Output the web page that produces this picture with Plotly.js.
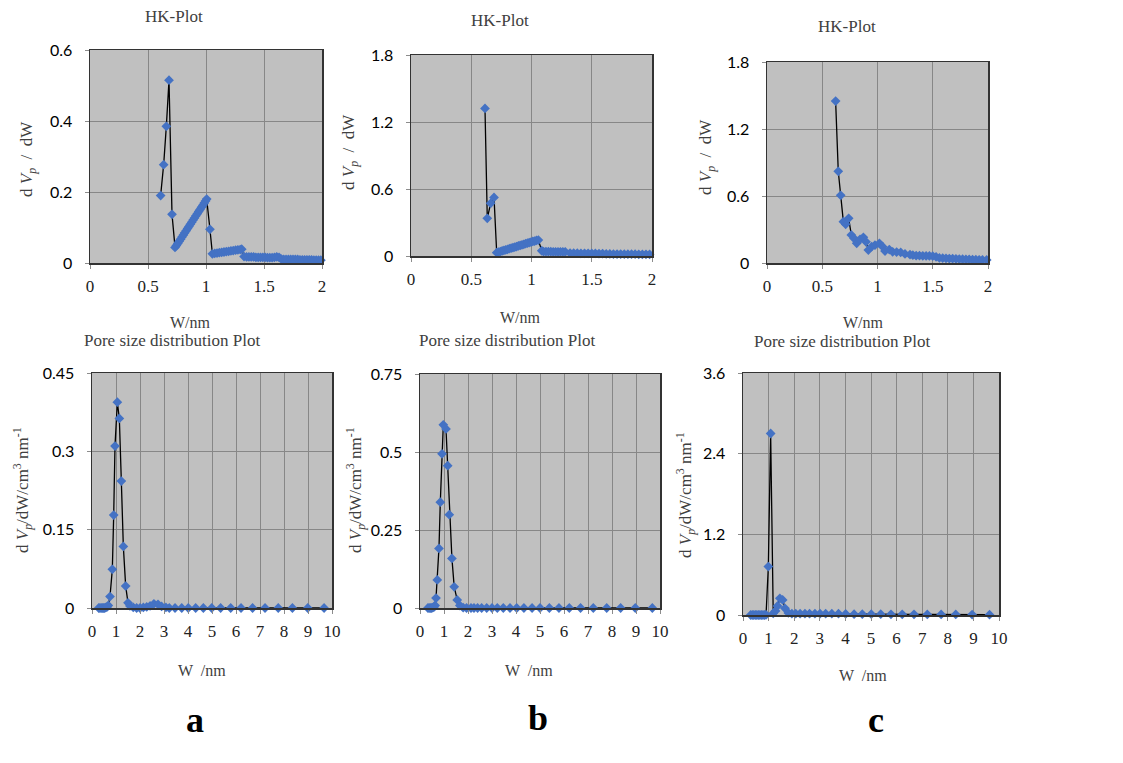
<!DOCTYPE html>
<html>
<head>
<meta charset="utf-8">
<script src="https://cdn.plot.ly/plotly-3.0.1.min.js"></script>
<style>html,body{margin:0;padding:0;background:#fff;}#chart{width:1123px;height:763px;}</style>
</head>
<body>
<div id="chart"></div>
<script>
// ---------- DATA ----------
// HK-Plot (a)
const hkA_w = [0.609,0.635,0.658,0.681,0.707,0.733,
  0.745,0.757,0.769,0.781,0.793,0.805,0.817,0.829,0.841,0.853,0.865,0.877,0.889,0.901,0.913,0.925,0.937,0.949,0.961,0.973,0.985,0.996,1.006,
  1.034,1.055,1.075,1.095,1.115,1.135,1.155,1.175,1.195,1.215,1.235,1.255,1.275,1.295,1.308,
  1.328,1.35,1.37,1.39,1.41,1.43,1.45,1.47,1.49,1.51,1.53,1.55,1.57,1.59,1.61,1.63,
  1.65,1.67,1.69,1.71,1.73,1.75,1.77,1.79,1.81,1.83,1.85,1.87,1.89,1.91,1.93,1.95,1.97,1.99];
const hkA_v = [0.190,0.277,0.385,0.515,0.137,0.044,
  0.049,0.055,0.061,0.067,0.073,0.079,0.085,0.091,0.097,0.103,0.109,0.115,0.121,0.127,0.133,0.139,0.145,0.151,0.157,0.163,0.169,0.175,0.180,
  0.095,0.026,0.027,0.028,0.029,0.030,0.031,0.032,0.033,0.034,0.035,0.036,0.037,0.038,0.039,
  0.018,0.017,0.017,0.017,0.017,0.016,0.016,0.016,0.016,0.016,0.015,0.015,0.015,0.016,0.017,0.016,
  0.011,0.010,0.010,0.010,0.010,0.010,0.010,0.010,0.009,0.009,0.009,0.009,0.009,0.009,0.008,0.008,0.008,0.008];
// HK-Plot (b)
const hkB_w = [0.614,0.633,0.661,0.689,0.711,
  0.726,0.741,0.756,0.771,0.786,0.801,0.816,0.831,0.846,0.861,0.876,0.891,0.906,0.921,0.936,0.951,0.966,0.981,0.996,1.011,1.026,1.041,1.057,
  1.085,1.10,1.12,1.14,1.16,1.18,1.20,1.22,1.24,1.26,1.28,
  1.32,1.35,1.38,1.41,1.44,1.47,1.50,1.53,1.56,1.59,
  1.62,1.65,1.68,1.71,1.74,1.77,1.80,1.83,1.86,1.89,1.92,1.95,1.98];
const hkB_v = [1.322,0.337,0.472,0.525,0.030,
  0.035,0.040,0.045,0.050,0.055,0.060,0.065,0.070,0.075,0.080,0.085,0.090,0.095,0.100,0.105,0.110,0.115,0.120,0.125,0.130,0.134,0.139,0.143,
  0.047,0.040,0.039,0.039,0.039,0.038,0.038,0.038,0.038,0.038,0.037,
  0.026,0.025,0.025,0.024,0.024,0.024,0.023,0.023,0.022,0.022,
  0.018,0.018,0.017,0.017,0.017,0.016,0.016,0.016,0.016,0.015,0.015,0.015,0.015];
// HK-Plot (c)
const hkC_w = [0.621,0.645,0.667,0.691,0.712,0.739,0.763,0.787,0.812,0.842,0.872,0.896,0.917,0.947,0.977,1.017,1.047,1.068,1.107,1.137,1.173,1.21,1.249,1.294,
  1.32,1.35,1.38,1.41,1.44,1.47,1.50,1.53,1.56,1.59,1.62,1.65,1.68,1.71,1.74,1.77,1.80,1.83,1.86,1.89,1.92,1.95,1.988];
const hkC_v = [1.450,0.821,0.606,0.370,0.346,0.400,0.251,0.221,0.176,0.212,0.230,0.190,0.116,0.146,0.160,0.176,0.146,0.107,0.120,0.100,0.098,0.095,0.081,0.075,
  0.070,0.066,0.065,0.064,0.063,0.063,0.062,0.055,0.045,0.043,0.042,0.040,0.039,0.037,0.035,0.034,0.033,0.032,0.031,0.030,0.029,0.028,0.027];
// Pore size distribution (a)
const psdA_w = [0.28,0.33,0.38,0.43,0.48,0.53,0.58,0.63,0.68,0.75,0.847,0.904,0.958,1.056,1.139,1.222,1.306,1.403,1.50,1.58,1.72,1.86,2.0,2.14,2.28,2.42,2.58,2.75,2.9,3.08,3.22,3.46,3.74,4.01,4.32,4.64,4.99,5.36,5.78,6.21,6.69,7.21,7.76,8.35,8.99,9.67];
const psdA_v = [0,0,0,0,0,0,0.001,0.002,0.005,0.022,0.074,0.178,0.310,0.394,0.363,0.243,0.118,0.042,0.010,0.004,0.001,0,0,0.001,0.002,0.004,0.008,0.007,0.003,0.001,0,0,0,0,0,0,0,0,0,0,0,0,0,0,0,0];
// Pore size distribution (b)
const psdB_w = [0.33,0.38,0.43,0.48,0.53,0.58,0.63,0.667,0.72,0.79,0.846,0.917,0.971,1.083,1.154,1.22,1.33,1.425,1.55,1.66,1.8,1.94,2.125,2.25,2.4,2.57,2.78,3.0,3.22,3.47,3.75,4.03,4.33,4.67,5.0,5.39,5.79,6.22,6.69,7.22,7.78,8.36,8.97,9.68];
const psdB_v = [0,0,0,0,0.001,0.003,0.008,0.032,0.090,0.191,0.339,0.494,0.587,0.574,0.456,0.299,0.159,0.068,0.026,0.008,0.001,0,0,0,0,0,0,0,0,0,0,0,0,0,0,0,0,0,0,0,0,0,0,0];
// Pore size distribution (c)
const psdC_w = [0.30,0.36,0.42,0.48,0.54,0.60,0.66,0.72,0.78,0.84,0.90,0.99,1.08,1.18,1.27,1.35,1.44,1.55,1.64,1.77,1.91,2.06,2.23,2.42,2.6,2.81,3.01,3.23,3.47,3.73,4.01,4.34,4.66,5.01,5.38,5.78,6.22,6.68,7.2,7.74,8.31,8.95,9.63];
const psdC_v = [0,0,0,0,0,0,0,0,0,0,0.002,0.72,2.70,0.025,0.06,0.134,0.249,0.224,0.10,0.03,0.02,0.02,0.02,0.02,0.02,0.02,0.02,0.02,0.02,0.02,0.015,0.012,0.012,0.012,0.012,0.01,0.01,0.01,0.008,0.008,0.008,0.006,0.005];

// tick labels
const hkXTicks = [0,0.5,1,1.5,2];
const hkXText = ["0","0.5","1","1.5","2"];
const hkAYTicks = [0,0.2,0.4,0.6];
const hkAYText = ["0","0.2","0.4","0.6"];
const hkBYTicks = [0,0.6,1.2,1.8];
const hkBYText = ["0","0.6","1.2","1.8"];
const psdXTicks = [0,1,2,3,4,5,6,7,8,9,10];
const psdXText = ["0","1","2","3","4","5","6","7","8","9","10"];
const psdAYTicks = [0,0.15,0.3,0.45];
const psdAYText = ["0","0.15","0.3","0.45"];
const psdBYTicks = [0,0.25,0.5,0.75];
const psdBYText = ["0","0.25","0.5","0.75"];
const psdCYTicks = [0,1.2,2.4,3.6];
const psdCYText = ["0","1.2","2.4","3.6"];

const hkTitle = "HK-Plot";
const psdTitle = "Pore size distribution Plot";
const hkYLabel = "d <i>V</i><sub><i>p</i></sub>  /  dW";
const psdYLabel = "d <i>V</i><sub><i>p</i></sub>/dW/cm<sup>3</sup> nm<sup>-1</sup>";
const hkXLabel = "W/nm";
const psdXLabel = "W  /nm";
const panelLetters = ["a","b","c"];

// ---------- LAYOUT ----------
const W = 1123, H = 763;
const fx = p => p / W;
const fy = p => 1 - p / H;

// plot boxes in px: [left, right, top, bottom]
const boxes = [
  [90, 322, 50, 263],
  [411, 652, 55, 256],
  [767, 988, 62, 263],
  [92, 332, 373, 608],
  [420, 660, 374, 608],
  [743, 999, 373, 615]
];

const series = [
  [hkA_w, hkA_v], [hkB_w, hkB_v], [hkC_w, hkC_v],
  [psdA_w, psdA_v], [psdB_w, psdB_v], [psdC_w, psdC_v]
];
const xcfg = [
  [[0,2], hkXTicks, hkXText], [[0,2], hkXTicks, hkXText], [[0,2], hkXTicks, hkXText],
  [[0,10], psdXTicks, psdXText], [[0,10], psdXTicks, psdXText], [[0,10], psdXTicks, psdXText]
];
const ycfg = [
  [[0,0.6], hkAYTicks, hkAYText], [[0,1.8], hkBYTicks, hkBYText], [[0,1.8], hkBYTicks, hkBYText],
  [[0,0.45], psdAYTicks, psdAYText], [[0,0.75], psdBYTicks, psdBYText], [[0,3.6], psdCYTicks, psdCYText]
];

const traces = [];
const layout = {
  width: W, height: H,
  margin: {l:0, r:0, t:0, b:0},
  paper_bgcolor: '#ffffff',
  plot_bgcolor: '#c0c0c0',
  showlegend: false,
  font: {family: 'Liberation Serif, DejaVu Serif, serif', size: 16, color: '#404040'},
  annotations: []
};

const serif = 'Liberation Serif, DejaVu Serif, serif';
const sans = 'Lato, Open Sans, sans-serif';

for (let i = 0; i < 6; i++) {
  const suf = i === 0 ? '' : String(i + 1);
  const b = boxes[i];
  traces.push({
    x: series[i][0], y: series[i][1],
    xaxis: 'x' + suf, yaxis: 'y' + suf,
    type: 'scatter', mode: 'lines+markers',
    line: {color: '#000000', width: 1.3},
    marker: {symbol: 'diamond', size: 7.5, color: '#4472C4'},
    cliponaxis: false,
    hoverinfo: 'skip'
  });
  layout['xaxis' + suf] = {
    domain: [fx(b[0]), fx(b[1])],
    anchor: 'y' + suf,
    range: xcfg[i][0],
    tickmode: 'array', tickvals: xcfg[i][1], ticktext: xcfg[i][2],
    showgrid: true, gridcolor: '#878787', gridwidth: 1,
    showline: true, linecolor: '#333333', linewidth: 1.5, mirror: true,
    ticks: 'outside', ticklen: 4, tickcolor: '#8c8c8c',
    ticklabelstandoff: 3,
    tickfont: {family: serif, size: 17, color: '#222222'},
    zeroline: false, fixedrange: true
  };
  layout['yaxis' + suf] = {
    domain: [fy(b[3]), fy(b[2])],
    anchor: 'x' + suf,
    range: ycfg[i][0],
    tickmode: 'array', tickvals: ycfg[i][1], ticktext: ycfg[i][2],
    showgrid: true, gridcolor: '#878787', gridwidth: 1,
    showline: true, linecolor: '#333333', linewidth: 1.5, mirror: true,
    ticks: 'outside', ticklen: 4, tickcolor: '#8c8c8c',
    ticklabelstandoff: 9,
    tickfont: {family: sans, size: 16, color: '#000000'},
    zeroline: false, fixedrange: true
  };
}

function ann(text, px, py, opts) {
  layout.annotations.push(Object.assign({
    text: text, xref: 'paper', yref: 'paper',
    x: fx(px), y: fy(py), xanchor: 'center', yanchor: 'middle',
    showarrow: false,
    font: {family: serif, size: 17, color: '#404040'}
  }, opts || {}));
}

const titleFont = {family: serif, size: 17, color: '#404040'};
const xLabFont = {family: serif, size: 16, color: '#404040'};
// chart titles
ann(hkTitle, 174, 16);
ann(hkTitle, 500, 20);
ann(hkTitle, 847, 27);
ann(psdTitle, 172, 341, {font: titleFont});
ann(psdTitle, 507, 341, {font: titleFont});
ann(psdTitle, 842, 342, {font: titleFont});
// x-axis titles
ann(hkXLabel, 191, 323, {font: xLabFont});
ann(hkXLabel, 520, 317, {font: xLabFont});
ann(hkXLabel, 863, 322, {font: xLabFont});
ann(psdXLabel, 202, 670, {font: xLabFont});
ann(psdXLabel, 529, 670, {font: xLabFont});
ann(psdXLabel, 863, 675, {font: xLabFont});
// y-axis titles
ann(hkYLabel, 28, 159, {textangle: -90});
ann(hkYLabel, 350, 152, {textangle: -90});
ann(hkYLabel, 707, 157, {textangle: -90});
ann(psdYLabel, 22, 490, {textangle: -90});
ann(psdYLabel, 355, 490, {textangle: -90});
ann(psdYLabel, 685, 495, {textangle: -90});
// panel letters
const letterPos = [[195, 720], [538, 718], [876, 720]];
panelLetters.forEach((t, k) => ann('<b>' + t + '</b>', letterPos[k][0], letterPos[k][1],
  {font: {family: serif, size: 36, color: '#000000'}}));

Plotly.newPlot('chart', traces, layout, {staticPlot: true, displayModeBar: false});
</script>
</body>
</html>
